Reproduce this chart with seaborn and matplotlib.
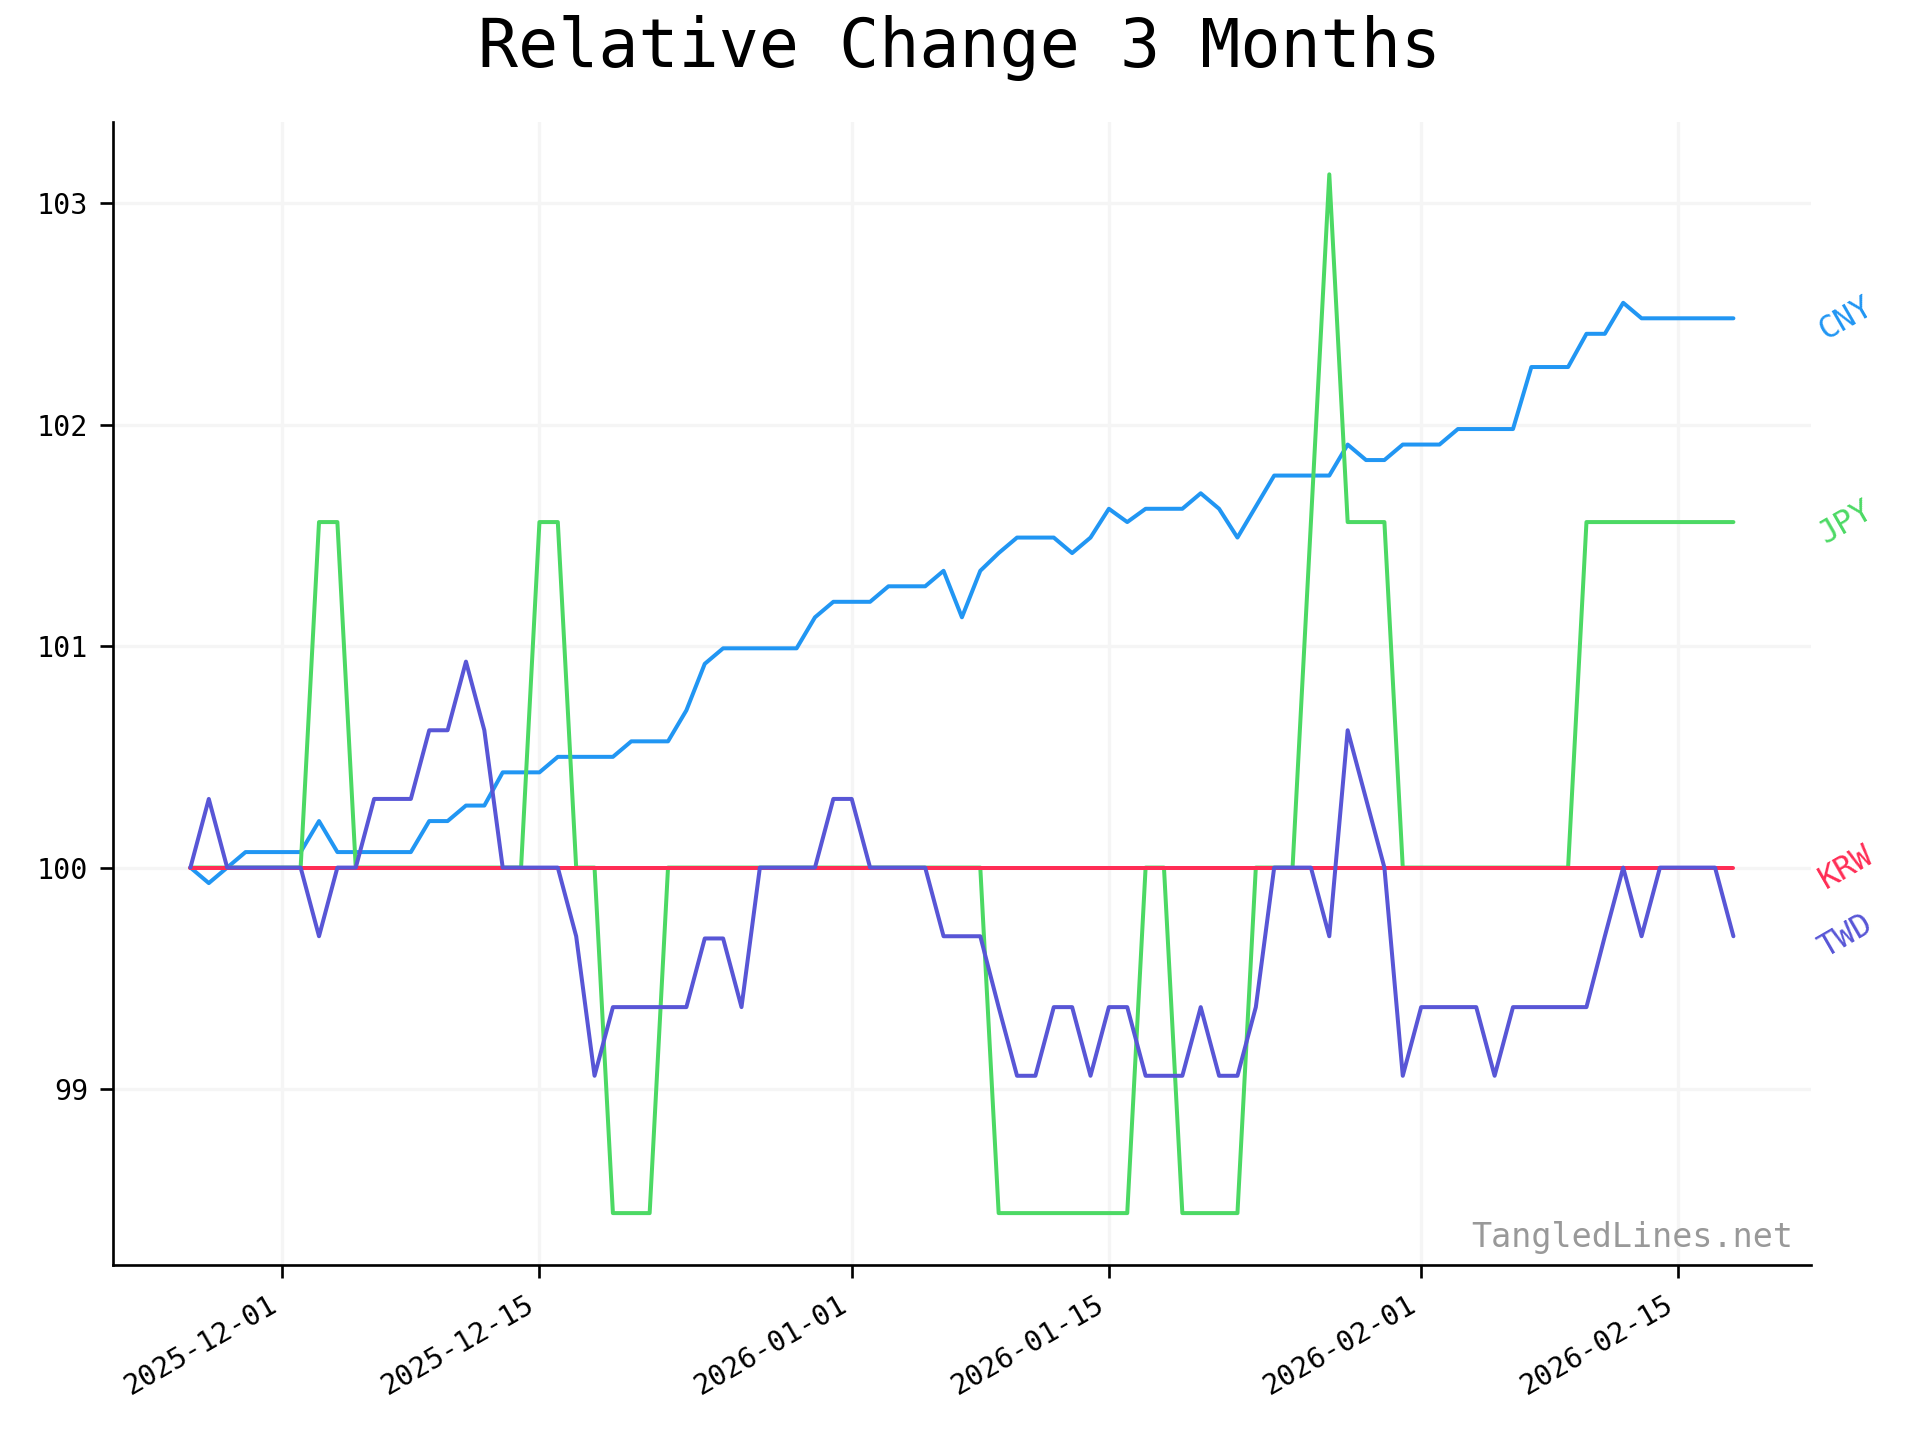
import matplotlib
matplotlib.use("Agg")
import matplotlib.pyplot as plt
import matplotlib.dates as mdates
from matplotlib.colors import to_hex
import pandas as pd
import seaborn as sns

# daily closes, rebased to 100 on the first day
dates = pd.date_range("2025-11-26", "2026-02-18", freq="D")

cny = [100.00, 99.93, 100.00, 100.07, 100.07, 100.07, 100.07, 100.21, 100.07, 100.07,
       100.07, 100.07, 100.07, 100.21, 100.21, 100.28, 100.28, 100.43, 100.43, 100.43,
       100.50, 100.50, 100.50, 100.50, 100.57, 100.57, 100.57, 100.71, 100.92, 100.99,
       100.99, 100.99, 100.99, 100.99, 101.13, 101.20, 101.20, 101.20, 101.27, 101.27,
       101.27, 101.34, 101.13, 101.34, 101.42, 101.49, 101.49, 101.49, 101.42, 101.49,
       101.62, 101.56, 101.62, 101.62, 101.62, 101.69, 101.62, 101.49, 101.63, 101.77,
       101.77, 101.77, 101.77, 101.91, 101.84, 101.84, 101.91, 101.91, 101.91, 101.98,
       101.98, 101.98, 101.98, 102.26, 102.26, 102.26, 102.41, 102.41, 102.55, 102.48,
       102.48, 102.48, 102.48, 102.48, 102.48]

jpy = [100.00, 100.00, 100.00, 100.00, 100.00, 100.00, 100.00, 101.56, 101.56, 100.00,
       100.00, 100.00, 100.00, 100.00, 100.00, 100.00, 100.00, 100.00, 100.00, 101.56,
       101.56, 100.00, 100.00, 98.44, 98.44, 98.44, 100.00, 100.00, 100.00, 100.00,
       100.00, 100.00, 100.00, 100.00, 100.00, 100.00, 100.00, 100.00, 100.00, 100.00,
       100.00, 100.00, 100.00, 100.00, 98.44, 98.44, 98.44, 98.44, 98.44, 98.44,
       98.44, 98.44, 100.00, 100.00, 98.44, 98.44, 98.44, 98.44, 100.00, 100.00,
       100.00, 101.56, 103.13, 101.56, 101.56, 101.56, 100.00, 100.00, 100.00, 100.00,
       100.00, 100.00, 100.00, 100.00, 100.00, 100.00, 101.56, 101.56, 101.56, 101.56,
       101.56, 101.56, 101.56, 101.56, 101.56]

krw = [100.00] * 85

twd = [100.00, 100.31, 100.00, 100.00, 100.00, 100.00, 100.00, 99.69, 100.00, 100.00,
       100.31, 100.31, 100.31, 100.62, 100.62, 100.93, 100.62, 100.00, 100.00, 100.00,
       100.00, 99.69, 99.06, 99.37, 99.37, 99.37, 99.37, 99.37, 99.68, 99.68,
       99.37, 100.00, 100.00, 100.00, 100.00, 100.31, 100.31, 100.00, 100.00, 100.00,
       100.00, 99.69, 99.69, 99.69, 99.37, 99.06, 99.06, 99.37, 99.37, 99.06,
       99.37, 99.37, 99.06, 99.06, 99.06, 99.37, 99.06, 99.06, 99.37, 100.00,
       100.00, 100.00, 99.69, 100.62, 100.31, 100.00, 99.06, 99.37, 99.37, 99.37,
       99.37, 99.06, 99.37, 99.37, 99.37, 99.37, 99.37, 99.69, 100.00, 99.69,
       100.00, 100.00, 100.00, 100.00, 99.69]

currencies = ["CNY", "JPY", "KRW", "TWD"]
colors = {"CNY": "#2196F3", "JPY": "#4CD964", "KRW": "#FF2D55", "TWD": "#5856D6"}

df = pd.DataFrame({
    "date": list(dates) * 4,
    "currency": [c for c in currencies for _ in dates],
    "value": cny + jpy + krw + twd,
})

sns.set_style("ticks")
plt.rcParams["font.family"] = ["DejaVu Sans Mono"]
plt.rcParams.update({
    "text.color": "black", "axes.labelcolor": "black", "axes.edgecolor": "black",
    "xtick.color": "black", "ytick.color": "black", "axes.linewidth": 0.8,
    "xtick.major.width": 0.8, "ytick.major.width": 0.8,
    "xtick.major.size": 4, "ytick.major.size": 4,
})

fig = plt.figure(figsize=(8, 6), dpi=240)
ax = fig.add_axes([0.059, 0.1215, 0.884, 0.7935])

sns.lineplot(data=df, x="date", y="value", hue="currency", hue_order=currencies,
             palette=colors, linewidth=1.2, legend=False, ax=ax)

# stacking: CNY < JPY < KRW < TWD
rank = {to_hex(colors[c]).lower(): i for i, c in enumerate(currencies)}
for line in ax.lines:
    line.set_zorder(2 + rank.get(to_hex(line.get_color()).lower(), 0))

ax.grid(True, color="#f5f5f5", linewidth=1.0)
ax.set_axisbelow(True)
sns.despine(ax=ax)

ax.xaxis.set_major_locator(mdates.DayLocator(bymonthday=[1, 15]))
ax.xaxis.set_major_formatter(mdates.DateFormatter("%Y-%m-%d"))
ax.set_yticks([99, 100, 101, 102, 103])
ax.tick_params(labelsize=8.5)
plt.setp(ax.get_xticklabels(), rotation=30, ha="right")
ax.set_xlabel("")
ax.set_ylabel("")

# currency names at the end of each line
last = {"CNY": cny[-1], "JPY": jpy[-1], "KRW": krw[-1], "TWD": twd[-1]}
for c in currencies:
    ax.annotate(c, xy=(dates[-1], last[c]), xytext=(24, 0), textcoords="offset points",
                ha="left", va="center", rotation=30, color=colors[c], fontsize=9.5,
                annotation_clip=False)

ax.text(0.99, 0.01, "TangledLines.net", transform=ax.transAxes, ha="right",
        va="bottom", color="#999999", fontsize=10)

fig.suptitle("Relative Change 3 Months", fontsize=20, y=0.967, va="center")

fig.savefig("out.png", dpi=240)
